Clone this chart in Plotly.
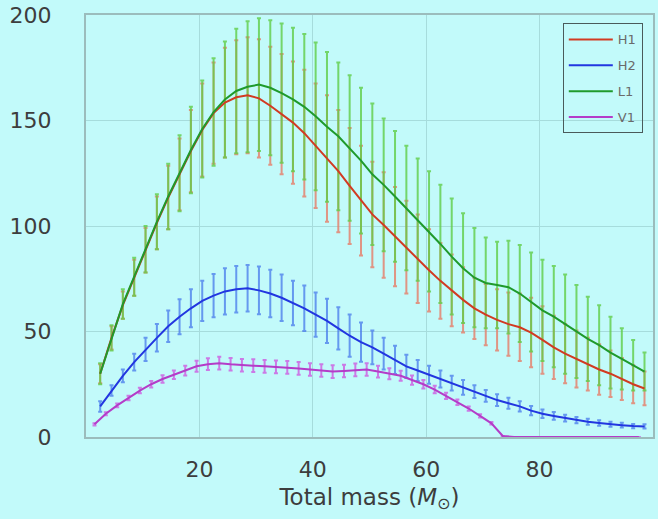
import plotly.graph_objects as go

# Total mass grid (detector H1, H2, L1 share one grid; V1 is offset)
mass = [2.5, 4.5, 6.5, 8.5, 10.5, 12.5, 14.5, 16.5, 18.5, 20.5,
        22.5, 24.5, 26.5, 28.5, 30.5, 32.5, 34.5, 36.5, 38.5, 40.5,
        42.5, 44.5, 46.5, 48.5, 50.5, 52.5, 54.5, 56.5, 58.5, 60.5,
        62.5, 64.5, 66.5, 68.5, 70.5, 72.5, 74.5, 76.5, 78.5, 80.5,
        82.5, 84.5, 86.5, 88.5, 90.5, 92.5, 94.5, 96.5, 98.5]
mass_v1 = [1.5, 3.5, 5.5, 7.5, 9.5, 11.5, 13.5, 15.5, 17.5, 19.5,
           21.5, 23.5, 25.5, 27.5, 29.5, 31.5, 33.5, 35.5, 37.5, 39.5,
           41.5, 43.5, 45.5, 47.5, 49.5, 51.5, 53.5, 55.5, 57.5, 59.5,
           61.5, 63.5, 65.5, 67.5, 69.5, 71.5, 73.5, 75.5, 77.5, 79.5,
           81.5, 83.5, 85.5, 87.5, 89.5, 91.5, 93.5, 95.5, 97.5]

h1 = [30, 47, 62.5, 75.5, 88.5, 101.5, 113.5, 124.5, 135.5, 145.5,
      153.5, 158.5, 161, 162, 160.5, 157, 153, 149, 144, 138,
      132, 126, 119, 112, 105.5, 100.5, 95, 90, 84.5, 79,
      74, 69.5, 65, 61, 58, 55.5, 53.5, 52, 49.5, 46,
      42.5, 39.5, 37, 34.5, 32, 30, 27.5, 25, 23]
h1_err = [4.5, 5.5, 6.5, 8.5, 10.5, 12.5, 15, 17, 19.5, 22,
          24, 26, 27, 27.5, 28, 28, 28.5, 29, 30, 29.5,
          30, 29, 27.5, 26, 25, 25, 23.5, 22, 21, 19.5,
          18, 17, 15.5, 14.5, 14.5, 14.5, 15, 16, 16.5, 16,
          15, 14, 13.5, 12.5, 12, 11, 10, 9, 8]

h2 = [14.5, 22, 29, 35.5, 41.5, 47, 52.5, 57, 61, 64.5,
      67, 69, 70, 70.5, 69.5, 68, 66, 63.5, 61, 58,
      55, 51.5, 48, 45, 42.5, 39.5, 36.5, 33.5, 31.5, 29.5,
      27.5, 25.5, 23.5, 21.5, 19.5, 17.5, 16, 14.5, 12.5, 11,
      10, 9, 8, 7.2, 6.6, 6, 5.6, 5.2, 5]
h2_err = [2.5, 2.5, 3, 4, 5.5, 6.5, 7.5, 8.3, 9, 9.5,
          10.3, 11, 11, 11, 11.3, 11.3, 11, 10.5, 10.8, 10.5,
          10.5, 10, 10, 9.3, 8, 7.5, 6.7, 5.5, 5, 4.3,
          4, 3.5, 3.5, 3, 2.8, 2.8, 2.6, 2.4, 2.2, 2,
          1.8, 1.6, 1.5, 1.4, 1.3, 1.2, 1.1, 1, 1]

l1 = [30, 47, 63, 76, 89, 102, 114, 125, 136, 146,
      154, 160, 164, 166, 167, 165.5, 163, 160, 156.5, 152,
      147, 142.5, 137, 131, 124.5, 119.5, 114, 108.5, 103, 97.5,
      91.5, 85.5, 80, 75.5, 73, 72, 71, 68, 64, 60,
      57, 53.5, 50, 46.5, 43.5, 40, 37, 34, 31]
l1_err = [5, 6, 7, 9, 11, 13, 15.5, 18, 20.5, 23,
          25.5, 27.5, 29.5, 31, 31.5, 32, 33, 34, 34.5, 35,
          35.5, 35, 34.5, 34.5, 33.5, 31.5, 31, 29.5, 29, 28.5,
          28, 27.5, 26, 23.5, 21.5, 20.5, 22, 23, 23.5, 24,
          24, 23.5, 22, 20, 19, 17, 14.5, 12, 9]

v1 = [6, 11, 15, 18.5, 22, 25, 27.5, 29.5, 31.5, 33.5,
      34.5, 35, 34.5, 34, 33.8, 33.5, 33.2, 33, 32.5, 32,
      31.5, 31, 31.3, 31.8, 32, 31, 30, 29, 27, 25,
      22.5, 19.5, 16.5, 13.5, 10, 6.5, 0.5, 0, 0, 0,
      0, 0, 0, 0, 0, 0, 0, 0, 0]
v1_err = [0.5, 0.7, 0.9, 1.1, 1.3, 1.5, 1.8, 2, 2.3, 2.6,
          2.8, 3, 3, 3, 3, 3, 3, 3, 3, 3,
          3, 3, 3, 3, 3, 2.8, 2.6, 2.4, 2.2, 2,
          1.8, 1.5, 1.3, 1, 0.8, 0.6, 0, 0, 0, 0,
          0, 0, 0, 0, 0, 0, 0, 0, 0]

series = [
    ("H1", mass, h1, h1_err, "#d23a22", "rgba(228,130,110,0.85)"),
    ("H2", mass, h2, h2_err, "#2236e0", "rgba(70,120,235,0.75)"),
    ("L1", mass, l1, l1_err, "#1f9a2c", "rgba(95,205,70,0.80)"),
    ("V1", mass_v1, v1, v1_err, "#b43cc8", "rgba(205,90,225,0.80)"),
]

fig = go.Figure()
for name, xs, ys, es, lc, bc in series:
    fig.add_trace(go.Scatter(
        x=xs, y=ys, mode="markers", marker=dict(size=1, opacity=0),
        error_y=dict(type="data", array=es, visible=True, color=bc,
                     thickness=2, width=2),
        showlegend=False, hoverinfo="skip"))
for name, xs, ys, es, lc, bc in series:
    fig.add_trace(go.Scatter(
        x=xs, y=ys, mode="lines", name=name, legendgroup=name,
        line=dict(color=lc, width=2)))

bg = "#c2fafa"
fig.update_layout(
    width=658, height=519,
    margin=dict(l=86, r=3, t=13, b=82),
    paper_bgcolor=bg, plot_bgcolor=bg,
    font=dict(family="DejaVu Sans", size=22, color="#3d3d3d"),
    legend=dict(x=0.982, y=0.98, xanchor="right", yanchor="top",
                bgcolor="rgba(0,0,0,0)", bordercolor="#4a5a5a",
                borderwidth=1, font=dict(size=13, color="#6a6a6a"),
                tracegroupgap=6, itemwidth=44),
    showlegend=True,
)
fig.update_xaxes(range=[0, 100], tickvals=[20, 40, 60, 80],
                 showgrid=True, gridcolor="#a6dcdc", gridwidth=1,
                 showline=True, mirror=True, linecolor="#9bbcbc", linewidth=2,
                 zeroline=False, ticks="", ticklabelstandoff=12,
                 tickfont=dict(size=22),
                 title=dict(text="Total mass (<i>M</i><sub>⊙</sub>)",
                            font=dict(size=23), standoff=7))
fig.update_yaxes(range=[0, 200], tickvals=[0, 50, 100, 150, 200],
                 showgrid=True, gridcolor="#a6dcdc", gridwidth=1,
                 showline=True, mirror=True, linecolor="#9bbcbc", linewidth=2,
                 zeroline=False, ticks="", ticklabelstandoff=28,
                 tickfont=dict(size=22))

fig.write_html("out.html")
